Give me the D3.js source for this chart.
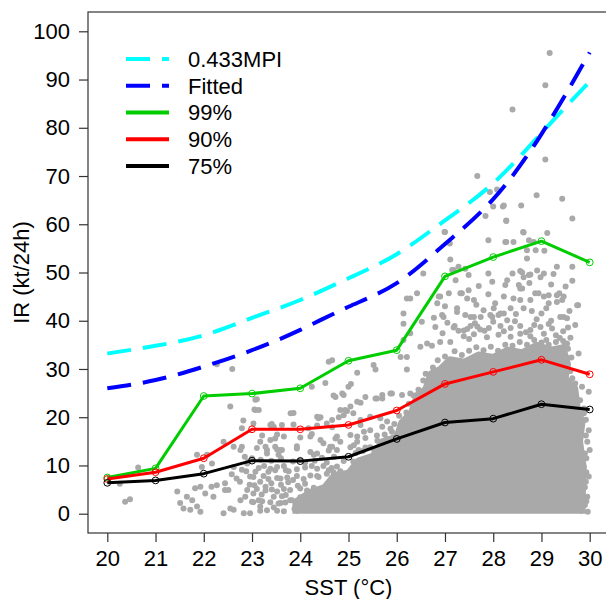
<!DOCTYPE html>
<html>
<head>
<meta charset="utf-8">
<script src="https://cdn.jsdelivr.net/npm/d3@7"></script>
<style>
  body { margin: 0; background: #fff; }
  svg { display: block; }
  text { font-family: "Liberation Sans", Arial, Helvetica, sans-serif; fill: #000; }
</style>
</head>
<body>
<div id="chart"></div>
<script>
/** SST bins (deg C) and axis ticks */
var sstBins = [20, 21, 22, 23, 24, 25, 26, 27, 28, 29, 30];
var irTicks = [0, 10, 20, 30, 40, 50, 60, 70, 80, 90, 100];

/** Curves at each SST bin */
var mpiCurve = [33.2, 34.8, 37.0, 40.6, 44.3, 48.8, 53.8, 60.8, 68.5, 78.9, 89.6];
var fittedCurve = [26.0, 27.7, 30.5, 33.9, 38.1, 42.9, 47.8, 55.9, 65.2, 78.7, 95.6];

/** Percentiles of IR per SST bin */
var q99 = [7.5, 9.4, 24.4, 24.9, 26.0, 31.7, 33.9, 49.2, 53.2, 56.5, 52.1];
var q90 = [7.2, 8.6, 11.5, 17.5, 17.5, 18.4, 21.4, 26.9, 29.4, 31.9, 28.9];
var q75 = [6.4, 6.9, 8.3, 11.0, 10.9, 11.8, 15.5, 18.9, 19.7, 22.7, 21.6];

/** Outline of the saturated part of the cloud (too dense to read one by one) [sst, ir] */
var denseCore = [
  [23.9, 0], [23.9, 2.5], [24.2, 4.5], [24.5, 5.5], [24.7, 8], [25.0, 8.5], [25.2, 11], [25.5, 12],
  [25.7, 15], [26.0, 16], [26.1, 19], [26.3, 21], [26.4, 24], [26.6, 26], [26.7, 29], [26.9, 30],
  [27.1, 32], [27.4, 31.5], [27.7, 33], [28.0, 32.5], [28.3, 34], [28.6, 33.5], [28.9, 35], [29.2, 34],
  [29.45, 34.5], [29.55, 31], [29.5, 28], [29.7, 26], [29.75, 22], [29.85, 19], [29.8, 15], [29.87, 10],
  [29.85, 0]
];

/** Single observations around the dense part [sst, ir] */
var observations = [
  [20.26, 6.2], [20.64, 9.6], [20.37, 2.5], [20.47, 3.0],
  [21.45, 4.6], [21.51, 2.2], [21.65, 3.5], [21.76, 2.8], [21.58, 1.1], [21.72, 0.8], [21.86, 1.5], [21.93, 0.4],
  [21.82, 5.3], [21.93, 5.6], [22.03, 4.2], [21.86, 12.2], [22.07, 12.2], [22.17, 10.4], [21.96, 9.7],
  [22.16, 5.6], [22.2, 3.5], [22.27, 5.9], [22.44, 6.3], [22.51, 4.9], [22.44, 4.9], [22.41, 0.1],
  [22.55, 1.1], [22.62, 0.8], [22.41, 14.9], [22.62, 13.9], [22.76, 13.2],
  [22.55, 22.2], [22.82, 19.3], [22.79, 17.7], [23.05, 21.6], [23.1, 23.7], [22.27, 31.0], [22.59, 30.0],
  [23.03, 18.7], [23.14, 21.5], [22.58, 8.2], [22.68, 7.3], [22.75, 6.6], [22.79, 13.9], [22.85, 11.8], [22.92, 10.8],
  [22.62, 9.7], [22.79, 9.1], [22.9, 10.4], [22.96, 7.7], [23.07, 8.7], [23.17, 6.6], [23.28, 5.6], [23.34, 8.7],
  [23.52, 9.7], [23.59, 7.3], [23.45, 3.5], [23.59, 2.2], [23.79, 2.8],
  [22.76, 2.8], [22.86, 3.5], [22.9, 4.9], [23.0, 2.5], [23.03, 4.2], [23.14, 2.8], [23.17, 1.5], [22.83, 0.1], [22.96, 0.1],
  [23.17, 14.9], [23.31, 13.2], [23.48, 13.9], [23.59, 13.2], [23.93, 13.5], [24.21, 12.8], [24.35, 12.5],
  [24.48, 14.6], [24.62, 13.9], [24.76, 13.2], [25.18, 14.9],
  [23.38, 18.4], [23.62, 18.4], [23.8, 20.8], [24.38, 19.8], [24.55, 18.7], [24.93, 21.5], [25.1, 20.8],
  [24.66, 31.8], [24.59, 31.5], [25.18, 29.2], [25.52, 30.8], [25.56, 29.9], [26.21, 44.6], [26.14, 39.4],
  [26.21, 29.9], [26.08, 32.5],
  [24.24, 26.3], [24.52, 27.1], [25.0, 26.3], [25.05, 26.9], [24.87, 24.9], [24.73, 24.2],
  [23.86, 20.9], [24.42, 20.0], [24.83, 21.5], [24.8, 20.0], [25.25, 23.0], [25.56, 23.9], [25.7, 23.9], [25.87, 24.9],
  [23.41, 18.6], [23.66, 16.0], [23.48, 15.6], [24.21, 16.0], [24.42, 15.3], [24.76, 16.0], [24.66, 13.9],
  [25.18, 16.0], [25.11, 14.2], [25.32, 17.0],
  [23.31, 12.5], [23.62, 13.2], [23.55, 12.2], [24.28, 12.2], [24.83, 14.9],
  [24.69, 24.5], [24.9, 24.6], [25.04, 22.2], [25.18, 23.2], [25.35, 24.2], [25.59, 23.9], [25.7, 24.6],
  [25.9, 24.9], [26.11, 24.6], [26.28, 24.9], [26.42, 24.6],
  [23.07, 23.6], [23.07, 21.5], [24.35, 20.1], [24.66, 19.4], [24.9, 20.4], [24.97, 21.3], [25.25, 19.4],
  [25.45, 20.1], [25.66, 19.8], [25.8, 19.1],
  [23.45, 18.0], [23.86, 18.5], [24.17, 17.7], [24.35, 18.3], [24.66, 17.9], [25.25, 18.4], [25.45, 17.3],
  [25.7, 18.0], [25.87, 17.6], [26.08, 18.5], [26.21, 17.8],
  [23.21, 16.2], [23.38, 15.3], [23.52, 16.4], [24.0, 15.8], [24.24, 16.5], [24.73, 15.6], [25.04, 16.3],
  [25.35, 15.7], [25.59, 16.2], [25.8, 15.5], [26.01, 16.4], [26.21, 15.8], [26.42, 16.6],
  [23.1, 13.6], [23.28, 13.9], [23.52, 13.3], [23.93, 14.0], [24.59, 13.1], [25.04, 13.8], [25.21, 13.2],
  [25.35, 13.7], [25.52, 13.4], [25.7, 14.0], [25.87, 13.3], [26.14, 13.8], [26.35, 13.6],
  [23.14, 9.5], [23.38, 9.3], [23.48, 9.0], [23.66, 9.9], [23.76, 8.8], [23.93, 9.2], [24.1, 9.6], [24.24, 9.9],
  [24.35, 9.3], [24.48, 9.9], [24.59, 9.0], [24.69, 8.6], [24.76, 9.8], [24.83, 8.8],
  [23.03, 7.6], [23.24, 7.8], [23.34, 7.2], [23.52, 7.4], [23.73, 7.5], [23.93, 7.8], [24.07, 7.2], [24.21, 7.9], [24.38, 7.6],
  [23.1, 5.1], [23.28, 4.8], [23.41, 5.0], [23.52, 4.6], [23.66, 5.1], [23.79, 4.9], [24.0, 5.2], [24.14, 4.8],
  [24.28, 5.4], [24.45, 5.0],
  [23.03, 2.4], [23.21, 2.6], [23.38, 2.4], [23.55, 2.1], [23.69, 2.3], [23.83, 2.8],
  [23.17, 0.6], [23.31, 0.7], [23.52, 0.6], [23.66, 0.5],
  [22.95, 6.0], [23.05, 5.9], [23.2, 4.0], [23.25, 9.9], [23.4, 6.3], [23.45, 1.3], [23.6, 6.0], [23.62, 3.6],
  [23.75, 6.5], [23.85, 7.0], [23.88, 1.0], [23.7, 9.0], [23.85, 10.8], [24.0, 11.2], [24.1, 10.6], [24.3, 11.0],
  [24.45, 11.6], [24.55, 10.6], [24.7, 11.8], [24.0, 3.4], [24.0, 0.8], [22.88, 8.8], [23.0, 11.5], [23.18, 11.2],
  [23.4, 11.0], [23.6, 11.5],
  [23.7, 3.9], [23.95, 5.8], [24.1, 6.2], [24.35, 7.8], [24.55, 8.3], [24.65, 9.5], [24.9, 10.9], [25.1, 10.8],
  [25.15, 12.6], [25.3, 13.0], [25.45, 13.8], [25.6, 15.1], [25.75, 16.4], [25.9, 17.0], [25.95, 18.6],
  [26.05, 20.3], [26.2, 21.0], [26.25, 22.8], [26.35, 24.5], [26.45, 25.7], [26.55, 27.6], [26.6, 29.0], [26.75, 30.3],
  [26.85, 31.8], [27.0, 32.6], [27.2, 33.7], [27.35, 32.9], [27.5, 33.8], [27.65, 34.5], [27.8, 33.9], [27.95, 34.6],
  [28.1, 33.8], [28.25, 35.0], [28.4, 34.8], [28.55, 35.6], [28.7, 35.0], [28.85, 36.0], [29.0, 35.5], [29.15, 35.0],
  [29.3, 35.6], [29.45, 35.8], [29.55, 34.2], [29.62, 32.4], [29.6, 29.6], [29.7, 27.0], [29.8, 23.5], [29.88, 20.8],
  [29.92, 16.2], [29.9, 12.5], [29.93, 8.6], [29.92, 6.6], [29.93, 2.6],
  [27.67, 70.0], [27.93, 66.7], [28.08, 67.2], [28.0, 63.7], [28.2, 63.7], [27.84, 61.7], [28.27, 60.8],
  [27.9, 56.7], [28.27, 56.3], [27.9, 49.8],
  [27.0, 58.4], [27.11, 52.7], [27.28, 51.2], [27.18, 50.5], [27.42, 50.8], [27.49, 49.5], [27.08, 45.7],
  [26.9, 45.0], [26.84, 43.6], [27.32, 45.7], [27.49, 46.3], [26.55, 49.8], [26.28, 44.6], [26.42, 45.7], [26.14, 41.5],
  [26.77, 40.6], [26.97, 40.8], [27.25, 41.8], [27.53, 40.8], [27.74, 40.8], [27.98, 40.8], [28.15, 41.5], [28.29, 40.1],
  [26.8, 38.7], [27.2, 38.9], [27.46, 38.3], [27.67, 38.8], [27.91, 38.5], [28.15, 38.9],
  [26.52, 39.8], [26.28, 37.4], [26.14, 36.0], [28.29, 48.4],
  [29.17, 95.5], [29.08, 88.8], [28.4, 83.8], [29.08, 73.4], [28.9, 66.0], [29.43, 65.3], [29.64, 61.2],
  [28.22, 63.9], [28.58, 63.9], [28.27, 60.7], [28.62, 58.4], [29.12, 58.2], [28.25, 56.3], [28.42, 56.3],
  [28.7, 54.6], [28.84, 56.3], [29.32, 51.2], [29.64, 51.2],
  [28.6, 50.0], [28.77, 49.6], [28.91, 50.4], [29.05, 49.8], [29.25, 49.7],
  [28.25, 47.4], [28.56, 46.7], [28.87, 45.7], [29.15, 45.3], [29.37, 45.7], [29.76, 43.2], [29.43, 44.3], [28.22, 45.0],
  [29.7, 39.1], [29.49, 35.0], [29.46, 40.8],
  [29.77, 33.2], [29.53, 32.2], [29.46, 30.4], [29.64, 28.1], [29.84, 26.3], [29.98, 25.3], [29.88, 21.8],
  [29.98, 17.3], [29.95, 14.9], [30.0, 13.2], [29.88, 9.7], [29.98, 7.7], [29.95, 3.5], [29.96, 0.4],
  [29.92, 19.5], [29.93, 11.5], [29.9, 5.5], [29.9, 1.8],
  [26.99, 58.4], [28.63, 58.3], [28.74, 56.7], [28.88, 54.6], [29.06, 54.5], [27.1, 56.0],
  [28.7, 52.9], [28.56, 50.3], [28.74, 49.5], [28.63, 49.0], [28.98, 49.0], [27.15, 50.5], [27.22, 48.4],
  [27.98, 48.1], [28.53, 47.4], [28.6, 46.7], [29.64, 48.3], [27.35, 45.7], [27.46, 44.6], [26.87, 45.0],
  [28.42, 44.6], [28.56, 44.3], [28.77, 44.3], [28.94, 45.7], [29.05, 45.0], [29.32, 45.3], [29.46, 45.0],
  [29.15, 43.6], [29.32, 43.9], [29.74, 43.2],
  [28.04, 43.6], [28.01, 42.6], [28.36, 42.6], [28.22, 41.5], [28.63, 42.6],
  [26.94, 41.2], [27.42, 41.2], [27.6, 40.8], [27.94, 41.2], [28.11, 41.2], [29.39, 40.8], [29.53, 40.5],
  [27.18, 38.6], [27.39, 38.0], [27.53, 38.9], [27.73, 38.2], [28.36, 38.5], [28.56, 38.9], [28.77, 38.1],
  [28.98, 38.7], [29.22, 38.4],
  [27.39, 36.8], [27.6, 37.2], [27.87, 36.6], [28.11, 37.1], [28.36, 36.7], [28.56, 37.3], [28.77, 36.8],
  [26.63, 35.3], [26.9, 35.6], [27.11, 35.6], [29.53, 35.3], [26.49, 34.6], [26.73, 34.8], [26.21, 32.5],
  [29.0, 41.5], [29.2, 40.0], [29.3, 37.0], [29.1, 36.0], [28.9, 40.3], [29.45, 37.8], [29.6, 36.5],
  [26.95, 37.4], [27.05, 39.6], [27.28, 37.9], [27.5, 36.2], [27.62, 39.5], [27.82, 37.9], [28.0, 39.8],
  [28.22, 37.8], [28.45, 39.9], [28.68, 37.6], [28.85, 39.1], [29.05, 37.3], [29.15, 39.3], [29.38, 36.4],
  [29.55, 38.6], [27.0, 43.0], [27.65, 43.3], [27.8, 42.2], [28.47, 41.4], [28.8, 42.0], [29.1, 42.6],
  [29.58, 42.0], [27.9, 45.5], [28.75, 47.8], [29.2, 47.5], [29.5, 47.1], [28.4, 49.8], [27.7, 47.2],
  [27.6, 44.3], [27.25, 42.6]
];

/** Legend entries */
var legendLabels = ["0.433MPI", "Fitted", "99%", "90%", "75%"];
var legendColors = ["#00ffff", "#0000ff", "#00cd00", "#ff0000", "#000000"];
var legendDashed = [true, true, false, false, false];

var width = 606, height = 599;
/** plot box edges, in pixels (window.top is reserved, hence the prefix) */
var boxLeft = 88, boxRight = 609, boxTop = 12, boxBottom = 533;

var svg = d3.select("#chart")
  .append("svg")
  .attr("width", width)
  .attr("height", height);

/** R style axes: 4% padding on both ends */
var x = d3.scaleLinear().domain([19.6, 30.4]).range([boxLeft, boxRight]);
var y = d3.scaleLinear().domain([-4, 104]).range([boxBottom, boxTop]);

svg.append("clipPath")
  .attr("id", "plotArea")
  .append("rect")
  .attr("x", boxLeft).attr("y", boxTop)
  .attr("width", boxRight - boxLeft).attr("height", boxBottom - boxTop);

var plot = svg.append("g").attr("clip-path", "url(#plotArea)");

/** Scatter: saturated core, then the single points */
plot.append("path")
  .datum(denseCore)
  .attr("d", d3.line().x(function(d) { return x(d[0]); }).y(function(d) { return y(d[1]); }))
  .attr("fill", "#a9a9a9")
  .attr("stroke", "#a9a9a9")
  .attr("stroke-width", 6)
  .attr("stroke-linejoin", "round");

plot.selectAll("circle.obs")
  .data(observations)
  .enter()
  .append("circle")
  .attr("class", "obs")
  .attr("cx", function(d) { return x(d[0]); })
  .attr("cy", function(d) { return y(d[1]); })
  .attr("r", 3)
  .attr("fill", "#a9a9a9");

/** Dashed curves */
var smooth = d3.line()
  .x(function(d, i) { return x(sstBins[i]); })
  .y(function(d) { return y(d); })
  .curve(d3.curveNatural);

plot.append("path")
  .datum(mpiCurve)
  .attr("d", smooth)
  .attr("fill", "none")
  .attr("stroke", legendColors[0])
  .attr("stroke-width", 4)
  .attr("stroke-dasharray", "24,12");

plot.append("path")
  .datum(fittedCurve)
  .attr("d", smooth)
  .attr("fill", "none")
  .attr("stroke", legendColors[1])
  .attr("stroke-width", 4)
  .attr("stroke-dasharray", "24,12");

/** Percentile lines with open circles */
var straight = d3.line()
  .x(function(d, i) { return x(sstBins[i]); })
  .y(function(d) { return y(d); });

[q99, q90, q75].forEach(function(series, k) {
  var color = legendColors[k + 2];
  plot.append("path")
    .datum(series)
    .attr("d", straight)
    .attr("fill", "none")
    .attr("stroke", color)
    .attr("stroke-width", 3)
    .attr("stroke-linejoin", "round");
  plot.selectAll("circle.q" + k)
    .data(series)
    .enter()
    .append("circle")
    .attr("class", "q" + k)
    .attr("cx", function(d, i) { return x(sstBins[i]); })
    .attr("cy", function(d) { return y(d); })
    .attr("r", 3.4)
    .attr("fill", "none")
    .attr("stroke", color)
    .attr("stroke-width", 1);
});

/** Box */
svg.append("rect")
  .attr("x", boxLeft).attr("y", boxTop)
  .attr("width", boxRight - boxLeft).attr("height", boxBottom - boxTop)
  .attr("fill", "none")
  .attr("stroke", "#333")
  .attr("stroke-width", 1.2);

/** Axes */
var xAxis = d3.axisBottom(x).tickValues(sstBins).tickSize(9).tickPadding(6).tickFormat(d3.format("d"));
var yAxis = d3.axisLeft(y).tickValues(irTicks).tickSize(9).tickPadding(6).tickFormat(d3.format("d"));

var gx = svg.append("g").attr("transform", "translate(0," + boxBottom + ")").call(xAxis);
var gy = svg.append("g").attr("transform", "translate(" + boxLeft + ",0)").call(yAxis);
[gx, gy].forEach(function(g) {
  g.select(".domain").remove();
  g.selectAll(".tick line").attr("stroke", "#333").attr("stroke-width", 1.2);
  g.selectAll(".tick text").style("font-size", "22px").attr("fill", "#000");
});
gx.selectAll(".tick text").attr("dy", "0.71em").attr("y", 17);
gy.selectAll(".tick text").attr("x", -18);

/** Axis titles */
svg.append("text")
  .attr("x", (boxLeft + boxRight) / 2)
  .attr("y", 595)
  .attr("text-anchor", "middle")
  .style("font-size", "22px")
  .text("SST (°C)");

svg.append("text")
  .attr("transform", "translate(29," + ((boxTop + boxBottom) / 2) + ") rotate(-90)")
  .attr("text-anchor", "middle")
  .style("font-size", "22px")
  .text("IR (kt/24h)");

/** Legend */
var legend = svg.append("g");
legendLabels.forEach(function(label, i) {
  var ly = 59 + i * 26.75;
  legend.append("line")
    .attr("x1", 126).attr("x2", 169)
    .attr("y1", ly).attr("y2", ly)
    .attr("stroke", legendColors[i])
    .attr("stroke-width", 4)
    .attr("stroke-dasharray", legendDashed[i] ? "24,12" : null);
  legend.append("text")
    .attr("x", 188)
    .attr("y", ly)
    .attr("dy", "0.36em")
    .style("font-size", "22px")
    .text(label);
});
</script>
</body>
</html>
